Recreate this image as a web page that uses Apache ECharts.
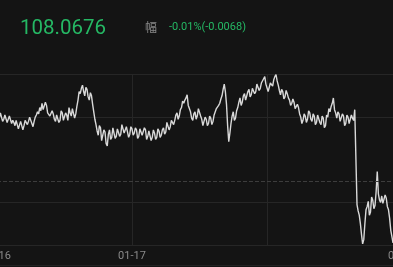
<!DOCTYPE html>
<html>
<head>
<meta charset="utf-8">
<script src="https://cdn.jsdelivr.net/npm/echarts@6/dist/echarts.min.js"></script>
<style>
html,body{margin:0;padding:0;background:#141414;}
#c{width:393px;height:267px;}
</style>
</head>
<body>
<div id="c"></div>
<script>
// ---- data ----
var lastPrice = '108.0676';
var changeLabel = '幅';
var changeText = '-0.01%(-0.0068)';
var prevClose = 108.072;
var dayLabels = ['01-16', '01-17', '', '01-20'];
var samplesPerDay = 120;
var priceBase = 108;      // prices are given in 0.0001 above this base
var tickSize = 0.0001;
var priceTicks = [
762,757,759,764,763,756,758,762,761,755,758,761,760,754,757,755,752,757,756,749,
750,756,755,748,752,757,758,753,756,760,759,754,751,756,760,762,765,763,769,766,
773,767,768,774,771,764,765,761,760,766,763,758,756,762,761,755,757,766,764,757,
758,764,762,757,769,764,761,768,767,759,763,770,776,784,782,787,790,784,780,788,
786,779,776,783,780,772,765,758,753,747,743,752,750,738,739,748,746,735,733,744,
748,739,741,750,751,740,742,749,750,742,744,753,752,745,746,751,750,741,744,751,
749,743,745,750,748,740,742,749,750,743,744,750,748,739,742,747,746,738,741,748,
745,739,741,749,747,741,743,748,750,744,746,755,754,748,751,757,758,753,757,762,
764,758,761,767,769,775,773,776,778,781,771,768,765,759,757,763,765,758,761,768,
767,761,758,752,753,760,758,752,754,761,759,753,756,762,763,768,767,771,773,777,
780,786,791,784,772,752,737,745,754,761,765,757,759,766,769,774,778,771,774,780,
782,776,777,784,786,779,781,787,788,782,784,791,790,785,787,792,793,796,798,791,
790,784,785,792,791,789,795,798,800,794,790,785,781,786,784,777,779,785,782,778,
776,771,773,777,774,768,767,772,769,763,760,754,757,763,761,755,758,766,764,758,
756,763,761,753,755,762,763,755,753,761,759,750,752,762,760,768,765,770,773,778,
767,764,759,765,763,756,757,763,761,752,754,762,760,754,755,762,759,757,767,766,
678,672,668,660,650,641,645,660,673,676,681,668,671,685,682,674,677,690,709,688,
682,680,686,679,680,687,684,676,673,665,654,648,642,646,645
];

// build [time(days), price] pairs on the sampling grid
var seriesData = priceTicks.map(function (t, i) {
  return [i / samplesPerDay, +(priceBase + t * tickSize).toFixed(4)];
});

var chart = echarts.init(document.getElementById('c'), null, {renderer: 'canvas'});
var green = '#25b864';
var gridColor = '#262626';
chart.setOption({
  backgroundColor: '#141414',
  animation: false,
  title: [
    {text: lastPrice, left: 15, top: 13, textStyle: {color: green, fontSize: 20.5, fontWeight: 'normal', fontFamily: 'Roboto'}},
    {text: changeLabel, left: 140, top: 16, textStyle: {color: '#8a8a8a', fontSize: 12, fontWeight: 'normal', fontFamily: 'Noto Sans CJK SC'}},
    {text: changeText, left: 164, top: 17, textStyle: {color: green, fontSize: 11, fontWeight: 'normal', fontFamily: 'Roboto'}}
  ],
  grid: {left: -3, right: -15.75, top: 74.5, bottom: 22, containLabel: false, outerBoundsMode: 'none'},
  xAxis: {
    type: 'value', min: 0, max: 3.05, interval: 1,
    axisLine: {show: true, lineStyle: {color: gridColor}},
    axisTick: {show: false},
    axisLabel: {
      color: '#8a8a8a', fontSize: 11, fontFamily: 'Roboto', margin: 6,
      showMinLabel: true, showMaxLabel: false, hideOverlap: false,
      formatter: function (v) { var k = Math.round(v); return dayLabels[k] || ''; }
    },
    splitLine: {show: true, lineStyle: {color: gridColor, width: 1}}
  },
  yAxis: {
    type: 'value', min: 108.064, max: 108.080, interval: 0.004,
    axisLine: {show: false}, axisTick: {show: false}, axisLabel: {show: false},
    splitLine: {show: true, lineStyle: {color: [gridColor, gridColor, 'transparent', gridColor, gridColor], width: 1}}
  },
  graphic: [
    {type: 'line', shape: {x1: 0, y1: 265.5, x2: 393, y2: 265.5}, style: {stroke: '#222', lineWidth: 1}, silent: true}
  ],
  series: [{
    type: 'line',
    data: seriesData,
    showSymbol: false,
    smooth: false,
    lineStyle: {color: '#d9d9d9', width: 1.4},
    markLine: {
      silent: true, symbol: 'none', label: {show: false},
      lineStyle: {color: '#3d3d3d', type: [4, 2], width: 1},
      data: [{yAxis: prevClose}]
    }
  }]
});
</script>
</body>
</html>
